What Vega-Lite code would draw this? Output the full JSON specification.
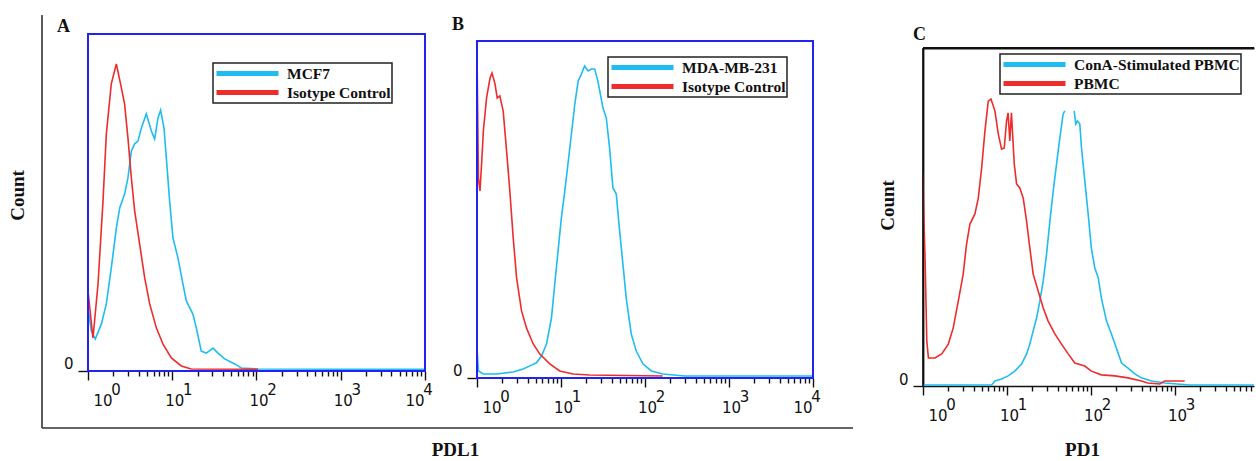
{
  "$schema": "https://vega.github.io/schema/vega-lite/v6.json",
  "background": "white",
  "padding": {"left": 8, "top": 14, "right": 0, "bottom": 0},
  "autosize": {"type": "pad"},
  "bounds": "flush",
  "spacing": 0,
  "config": {
    "view": {"stroke": null},
    "axis": {"grid": false, "labelFont": "DejaVu Sans", "labelFontSize": 15, "labelColor": "#111", "tickColor": "#111", "tickWidth": 1.4, "domainColor": "#111", "domainWidth": 1.6, "titleFont": "Liberation Serif", "titleFontSize": 19, "titleFontWeight": "bold", "titleColor": "#111"},
    "legend": {"symbolType": "stroke", "symbolSize": 3844, "symbolStrokeWidth": 5, "clipHeight": 19, "rowPadding": 0, "padding": 1, "labelOffset": 6, "labelFont": "Liberation Serif", "labelFontSize": 15.5, "labelFontWeight": "bold", "labelColor": "#111", "labelLimit": 400, "strokeColor": "#222", "strokeWidth": 1.5, "fillColor": "white"},
    "title": {"font": "Liberation Serif", "fontSize": 18, "fontWeight": "bold", "color": "#111", "anchor": "start", "frame": "group", "baseline": "alphabetic", "offset": 0}
  },
  "datasets": {
    "A": [
      {"s": "MCF7", "x": 1.0, "y": 18.7}, {"s": "MCF7", "x": 1.095, "y": 11.9}, {"s": "MCF7", "x": 1.22, "y": 9.5}, {"s": "MCF7", "x": 1.44, "y": 13.9}, {"s": "MCF7", "x": 1.65, "y": 19.9}, {"s": "MCF7", "x": 1.89, "y": 30.6}, {"s": "MCF7", "x": 2.17, "y": 42.4}, {"s": "MCF7", "x": 2.38, "y": 48.4}, {"s": "MCF7", "x": 2.72, "y": 52.5}, {"s": "MCF7", "x": 2.98, "y": 57.3}, {"s": "MCF7", "x": 3.27, "y": 65.3}, {"s": "MCF7", "x": 3.58, "y": 67.4}, {"s": "MCF7", "x": 3.92, "y": 68.2}, {"s": "MCF7", "x": 4.3, "y": 72.1}, {"s": "MCF7", "x": 4.92, "y": 76.3}, {"s": "MCF7", "x": 5.65, "y": 71.2}, {"s": "MCF7", "x": 6.18, "y": 68.8}, {"s": "MCF7", "x": 6.77, "y": 75.1}, {"s": "MCF7", "x": 7.28, "y": 77.4}, {"s": "MCF7", "x": 7.98, "y": 72.1}, {"s": "MCF7", "x": 8.51, "y": 63.2}, {"s": "MCF7", "x": 9.31, "y": 50.4}, {"s": "MCF7", "x": 10.2, "y": 39.5}, {"s": "MCF7", "x": 11.7, "y": 33.5}, {"s": "MCF7", "x": 13.4, "y": 25.8}, {"s": "MCF7", "x": 14.7, "y": 20.8}, {"s": "MCF7", "x": 17.6, "y": 16.9}, {"s": "MCF7", "x": 19.3, "y": 12.8}, {"s": "MCF7", "x": 22.1, "y": 5.9}, {"s": "MCF7", "x": 25.4, "y": 5.3}, {"s": "MCF7", "x": 30.5, "y": 6.8}, {"s": "MCF7", "x": 34.9, "y": 5.3}, {"s": "MCF7", "x": 41.9, "y": 3.6}, {"s": "MCF7", "x": 55.1, "y": 2.1}, {"s": "MCF7", "x": 66.1, "y": 0.9}, {"s": "MCF7", "x": 104, "y": 0.6}, {"s": "MCF7", "x": 1000, "y": 0.5}, {"s": "MCF7", "x": 10000, "y": 0.5},
      {"s": "Isotype Control", "x": 1.0, "y": 23.7}, {"s": "Isotype Control", "x": 1.146, "y": 9.8}, {"s": "Isotype Control", "x": 1.315, "y": 25.8}, {"s": "Isotype Control", "x": 1.507, "y": 50.4}, {"s": "Isotype Control", "x": 1.65, "y": 70.3}, {"s": "Isotype Control", "x": 1.89, "y": 85.2}, {"s": "Isotype Control", "x": 2.17, "y": 91.1}, {"s": "Isotype Control", "x": 2.49, "y": 84.0}, {"s": "Isotype Control", "x": 2.72, "y": 79.2}, {"s": "Isotype Control", "x": 2.98, "y": 69.1}, {"s": "Isotype Control", "x": 3.27, "y": 57.3}, {"s": "Isotype Control", "x": 3.58, "y": 47.5}, {"s": "Isotype Control", "x": 4.1, "y": 37.7}, {"s": "Isotype Control", "x": 4.71, "y": 27.6}, {"s": "Isotype Control", "x": 5.4, "y": 19.9}, {"s": "Isotype Control", "x": 6.47, "y": 12.8}, {"s": "Isotype Control", "x": 7.77, "y": 8.0}, {"s": "Isotype Control", "x": 9.75, "y": 3.9}, {"s": "Isotype Control", "x": 12.8, "y": 1.5}, {"s": "Isotype Control", "x": 16.8, "y": 0.6}, {"s": "Isotype Control", "x": 104, "y": 0.5}
    ],
    "B": [
      {"s": "MDA-MB-231", "x": 1.0, "y": 8.9}, {"s": "MDA-MB-231", "x": 1.04, "y": 2.1}, {"s": "MDA-MB-231", "x": 1.19, "y": 1.2}, {"s": "MDA-MB-231", "x": 1.71, "y": 1.2}, {"s": "MDA-MB-231", "x": 2.7, "y": 1.8}, {"s": "MDA-MB-231", "x": 3.55, "y": 2.7}, {"s": "MDA-MB-231", "x": 4.26, "y": 3.6}, {"s": "MDA-MB-231", "x": 5.11, "y": 4.5}, {"s": "MDA-MB-231", "x": 5.86, "y": 6.5}, {"s": "MDA-MB-231", "x": 6.72, "y": 10.1}, {"s": "MDA-MB-231", "x": 7.7, "y": 17.8}, {"s": "MDA-MB-231", "x": 8.43, "y": 27.9}, {"s": "MDA-MB-231", "x": 9.23, "y": 37.7}, {"s": "MDA-MB-231", "x": 10.1, "y": 47.5}, {"s": "MDA-MB-231", "x": 11.1, "y": 55.5}, {"s": "MDA-MB-231", "x": 12.1, "y": 63.5}, {"s": "MDA-MB-231", "x": 13.3, "y": 72.4}, {"s": "MDA-MB-231", "x": 14.6, "y": 81.3}, {"s": "MDA-MB-231", "x": 16.0, "y": 88.1}, {"s": "MDA-MB-231", "x": 17.5, "y": 90.2}, {"s": "MDA-MB-231", "x": 19.1, "y": 92.6}, {"s": "MDA-MB-231", "x": 21.0, "y": 91.1}, {"s": "MDA-MB-231", "x": 23.0, "y": 91.7}, {"s": "MDA-MB-231", "x": 25.2, "y": 91.7}, {"s": "MDA-MB-231", "x": 27.5, "y": 88.1}, {"s": "MDA-MB-231", "x": 31.6, "y": 80.1}, {"s": "MDA-MB-231", "x": 34.6, "y": 77.2}, {"s": "MDA-MB-231", "x": 37.9, "y": 68.2}, {"s": "MDA-MB-231", "x": 41.5, "y": 56.4}, {"s": "MDA-MB-231", "x": 45.5, "y": 54.6}, {"s": "MDA-MB-231", "x": 49.9, "y": 43.6}, {"s": "MDA-MB-231", "x": 54.6, "y": 33.8}, {"s": "MDA-MB-231", "x": 59.8, "y": 23.7}, {"s": "MDA-MB-231", "x": 68.6, "y": 13.1}, {"s": "MDA-MB-231", "x": 78.7, "y": 8.0}, {"s": "MDA-MB-231", "x": 94.4, "y": 4.2}, {"s": "MDA-MB-231", "x": 119, "y": 2.1}, {"s": "MDA-MB-231", "x": 163, "y": 1.2}, {"s": "MDA-MB-231", "x": 300, "y": 0.6}, {"s": "MDA-MB-231", "x": 10000, "y": 0.6},
      {"s": "Isotype Control", "x": 1.0, "y": 97.0}, {"s": "Isotype Control", "x": 1.04, "y": 59.3}, {"s": "Isotype Control", "x": 1.085, "y": 55.5}, {"s": "Isotype Control", "x": 1.14, "y": 64.4}, {"s": "Isotype Control", "x": 1.19, "y": 73.3}, {"s": "Isotype Control", "x": 1.3, "y": 83.1}, {"s": "Isotype Control", "x": 1.43, "y": 89.0}, {"s": "Isotype Control", "x": 1.51, "y": 90.5}, {"s": "Isotype Control", "x": 1.64, "y": 87.2}, {"s": "Isotype Control", "x": 1.74, "y": 83.1}, {"s": "Isotype Control", "x": 1.87, "y": 83.7}, {"s": "Isotype Control", "x": 2.05, "y": 79.2}, {"s": "Isotype Control", "x": 2.25, "y": 67.4}, {"s": "Isotype Control", "x": 2.46, "y": 55.5}, {"s": "Isotype Control", "x": 2.7, "y": 41.5}, {"s": "Isotype Control", "x": 2.96, "y": 29.7}, {"s": "Isotype Control", "x": 3.39, "y": 19.9}, {"s": "Isotype Control", "x": 3.89, "y": 14.8}, {"s": "Isotype Control", "x": 4.67, "y": 10.1}, {"s": "Isotype Control", "x": 5.6, "y": 7.1}, {"s": "Isotype Control", "x": 7.35, "y": 4.2}, {"s": "Isotype Control", "x": 9.66, "y": 2.1}, {"s": "Isotype Control", "x": 13.9, "y": 1.2}, {"s": "Isotype Control", "x": 21.9, "y": 0.9}, {"s": "Isotype Control", "x": 162, "y": 0.6}
    ],
    "C": [
      {"s": "ConA-Stimulated PBMC", "g": 1, "x": 1.0, "y": 0.3}, {"s": "ConA-Stimulated PBMC", "g": 1, "x": 6.56, "y": 0.3}, {"s": "ConA-Stimulated PBMC", "g": 1, "x": 7.18, "y": 1.5}, {"s": "ConA-Stimulated PBMC", "g": 1, "x": 8.62, "y": 2.1}, {"s": "ConA-Stimulated PBMC", "g": 1, "x": 10.3, "y": 3.0}, {"s": "ConA-Stimulated PBMC", "g": 1, "x": 12.4, "y": 4.4}, {"s": "ConA-Stimulated PBMC", "g": 1, "x": 14.9, "y": 6.5}, {"s": "ConA-Stimulated PBMC", "g": 1, "x": 17.1, "y": 9.5}, {"s": "ConA-Stimulated PBMC", "g": 1, "x": 18.7, "y": 12.4}, {"s": "ConA-Stimulated PBMC", "g": 1, "x": 20.5, "y": 16.3}, {"s": "ConA-Stimulated PBMC", "g": 1, "x": 22.5, "y": 20.1}, {"s": "ConA-Stimulated PBMC", "g": 1, "x": 24.6, "y": 25.1}, {"s": "ConA-Stimulated PBMC", "g": 1, "x": 27.0, "y": 31.1}, {"s": "ConA-Stimulated PBMC", "g": 1, "x": 29.6, "y": 39.1}, {"s": "ConA-Stimulated PBMC", "g": 1, "x": 32.4, "y": 48.8}, {"s": "ConA-Stimulated PBMC", "g": 1, "x": 35.5, "y": 57.7}, {"s": "ConA-Stimulated PBMC", "g": 1, "x": 38.9, "y": 65.7}, {"s": "ConA-Stimulated PBMC", "g": 1, "x": 42.6, "y": 73.4}, {"s": "ConA-Stimulated PBMC", "g": 1, "x": 46.6, "y": 80.5}, {"s": "ConA-Stimulated PBMC", "g": 1, "x": 48.8, "y": 81.4},
      {"s": "ConA-Stimulated PBMC", "g": 2, "x": 63.0, "y": 81.4}, {"s": "ConA-Stimulated PBMC", "g": 2, "x": 65.9, "y": 77.5}, {"s": "ConA-Stimulated PBMC", "g": 2, "x": 69.0, "y": 78.4}, {"s": "ConA-Stimulated PBMC", "g": 2, "x": 73.6, "y": 77.5}, {"s": "ConA-Stimulated PBMC", "g": 2, "x": 77.1, "y": 70.4}, {"s": "ConA-Stimulated PBMC", "g": 2, "x": 84.4, "y": 60.7}, {"s": "ConA-Stimulated PBMC", "g": 2, "x": 92.5, "y": 50.9}, {"s": "ConA-Stimulated PBMC", "g": 2, "x": 101, "y": 40.8}, {"s": "ConA-Stimulated PBMC", "g": 2, "x": 111, "y": 34.9}, {"s": "ConA-Stimulated PBMC", "g": 2, "x": 122, "y": 32.0}, {"s": "ConA-Stimulated PBMC", "g": 2, "x": 133, "y": 26.0}, {"s": "ConA-Stimulated PBMC", "g": 2, "x": 153, "y": 19.2}, {"s": "ConA-Stimulated PBMC", "g": 2, "x": 175, "y": 15.4}, {"s": "ConA-Stimulated PBMC", "g": 2, "x": 201, "y": 11.2}, {"s": "ConA-Stimulated PBMC", "g": 2, "x": 231, "y": 6.8}, {"s": "ConA-Stimulated PBMC", "g": 2, "x": 276, "y": 5.3}, {"s": "ConA-Stimulated PBMC", "g": 2, "x": 332, "y": 3.6}, {"s": "ConA-Stimulated PBMC", "g": 2, "x": 398, "y": 2.4}, {"s": "ConA-Stimulated PBMC", "g": 2, "x": 524, "y": 1.5}, {"s": "ConA-Stimulated PBMC", "g": 2, "x": 754, "y": 0.9}, {"s": "ConA-Stimulated PBMC", "g": 2, "x": 1500, "y": 0.3}, {"s": "ConA-Stimulated PBMC", "g": 2, "x": 8700, "y": 0.3},
      {"s": "PBMC", "g": 1, "x": 1.0, "y": 62.7}, {"s": "PBMC", "g": 1, "x": 1.01, "y": 54.7}, {"s": "PBMC", "g": 1, "x": 1.06, "y": 37.0}, {"s": "PBMC", "g": 1, "x": 1.11, "y": 13.3}, {"s": "PBMC", "g": 1, "x": 1.16, "y": 8.3}, {"s": "PBMC", "g": 1, "x": 1.39, "y": 8.3}, {"s": "PBMC", "g": 1, "x": 1.67, "y": 9.5}, {"s": "PBMC", "g": 1, "x": 2.0, "y": 12.4}, {"s": "PBMC", "g": 1, "x": 2.29, "y": 17.2}, {"s": "PBMC", "g": 1, "x": 2.63, "y": 25.1}, {"s": "PBMC", "g": 1, "x": 3.01, "y": 33.1}, {"s": "PBMC", "g": 1, "x": 3.3, "y": 42.0}, {"s": "PBMC", "g": 1, "x": 3.62, "y": 47.9}, {"s": "PBMC", "g": 1, "x": 4.15, "y": 50.9}, {"s": "PBMC", "g": 1, "x": 4.55, "y": 55.6}, {"s": "PBMC", "g": 1, "x": 4.99, "y": 64.5}, {"s": "PBMC", "g": 1, "x": 5.46, "y": 75.4}, {"s": "PBMC", "g": 1, "x": 5.98, "y": 84.3}, {"s": "PBMC", "g": 1, "x": 6.44, "y": 84.9}, {"s": "PBMC", "g": 1, "x": 7.18, "y": 81.4}, {"s": "PBMC", "g": 1, "x": 7.87, "y": 74.6}, {"s": "PBMC", "g": 1, "x": 8.62, "y": 70.1}, {"s": "PBMC", "g": 1, "x": 9.27, "y": 70.4}, {"s": "PBMC", "g": 1, "x": 9.88, "y": 78.4}, {"s": "PBMC", "g": 1, "x": 10.3, "y": 80.8}, {"s": "PBMC", "g": 1, "x": 10.8, "y": 72.5}, {"s": "PBMC", "g": 1, "x": 11.3, "y": 80.8}, {"s": "PBMC", "g": 1, "x": 12.2, "y": 65.7}, {"s": "PBMC", "g": 1, "x": 13.0, "y": 59.8}, {"s": "PBMC", "g": 1, "x": 14.2, "y": 58.6}, {"s": "PBMC", "g": 1, "x": 15.6, "y": 55.6}, {"s": "PBMC", "g": 1, "x": 17.1, "y": 48.8}, {"s": "PBMC", "g": 1, "x": 18.7, "y": 40.8}, {"s": "PBMC", "g": 1, "x": 20.5, "y": 33.1}, {"s": "PBMC", "g": 1, "x": 23.5, "y": 28.1}, {"s": "PBMC", "g": 1, "x": 27.0, "y": 23.1}, {"s": "PBMC", "g": 1, "x": 30.9, "y": 19.2}, {"s": "PBMC", "g": 1, "x": 37.1, "y": 15.4}, {"s": "PBMC", "g": 1, "x": 44.6, "y": 12.4}, {"s": "PBMC", "g": 1, "x": 53.5, "y": 9.5}, {"s": "PBMC", "g": 1, "x": 64.2, "y": 6.8}, {"s": "PBMC", "g": 1, "x": 84.4, "y": 5.9}, {"s": "PBMC", "g": 1, "x": 101, "y": 4.4}, {"s": "PBMC", "g": 1, "x": 133, "y": 3.3}, {"s": "PBMC", "g": 1, "x": 192, "y": 3.0}, {"s": "PBMC", "g": 1, "x": 276, "y": 2.4}, {"s": "PBMC", "g": 1, "x": 398, "y": 1.5}, {"s": "PBMC", "g": 1, "x": 477, "y": 0.9}, {"s": "PBMC", "g": 1, "x": 658, "y": 0.6}, {"s": "PBMC", "g": 1, "x": 754, "y": 1.5}, {"s": "PBMC", "g": 1, "x": 1304, "y": 1.5}
    ]
  },
  "resolve": {"scale": {"color": "independent"}},
  "hconcat": [
    {
      "width": 408,
      "height": 413,
      "title": {"text": "A", "dx": 15, "dy": 26},
      "resolve": {"axis": {"x": "independent"}},
      "layer": [
        {
          "data": {"name": "A"},
          "mark": {"type": "line", "strokeWidth": 1.6},
          "encoding": {
            "x": {"field": "x", "type": "quantitative",
              "scale": {"type": "log", "domain": [0.28445, 19806], "nice": false},
              "axis": {"orient": "bottom", "offset": -57, "domain": false,
                "values": [1,2,3,4,5,6,7,8,9,10,20,30,40,50,60,70,80,90,100,200,300,400,500,600,700,800,900,1000,2000,3000,4000,5000,6000,7000,8000,9000,10000],
                "tickSize": {"condition": {"test": "datum.value === 1 || datum.value === 10 || datum.value === 100 || datum.value === 1000 || datum.value === 10000", "value": 9}, "value": 5},
                "labelPadding": 13, "labelBaseline": "top", "labelAlign": "center",
                "labelFlush": false, "labelOverlap": false, "labelBound": false,
                "labelOffset": {"expr": "datum.value === 1 ? 14.5 : datum.value === 10000 ? -10.5 : 2"},
                "labelExpr": "datum.value === 1 || datum.value === 10 || datum.value === 100 || datum.value === 1000 || datum.value === 10000 ? '10' : ''",
                "title": "PDL1", "titleX": 413, "titleY": 84, "titleBaseline": "alphabetic", "titleAlign": "center"}},
            "y": {"field": "y", "type": "quantitative",
              "scale": {"domain": [-16.914, 105.638], "nice": false, "zero": false},
              "axis": {"orient": "left", "offset": -46, "domain": false, "values": [0], "tickSize": 10,
                "labelPadding": 5, "labelBaseline": "alphabetic", "labelOffset": -2,
                "title": "Count", "titleX": -80, "titleY": 180, "titleBaseline": "top", "titleAlign": "center", "titleAngle": 270}},
            "color": {"field": "s", "type": "nominal",
              "scale": {"domain": ["MCF7", "Isotype Control"], "range": ["#1fbcef", "#ee2c2c"]},
              "legend": {"title": null, "orient": "none", "legendX": 171, "legendY": 48}}
          }
        },
        {
          "data": {"values": [{}]},
          "mark": {"type": "rule", "color": "#333", "strokeWidth": 1.6},
          "encoding": {"x": {"datum": 0.28445, "type": "quantitative", "axis": null}}
        },
        {
          "data": {"values": [{}]},
          "mark": {"type": "rule", "color": "#333", "strokeWidth": 1.6},
          "encoding": {"y": {"datum": -16.914, "type": "quantitative"}}
        },
        {
          "data": {"values": [{}]},
          "mark": {"type": "rect", "fill": "transparent", "stroke": "#2222f2", "strokeWidth": 2},
          "encoding": {
            "x": {"datum": 1, "type": "quantitative",
              "axis": {"orient": "bottom", "offset": -57, "domain": false, "values": [1, 10, 100, 1000, 10000],
                "ticks": true, "tickOpacity": 0, "tickSize": 9, "labelPadding": 2, "labelBaseline": "top", "labelAlign": "center",
                "labelFlush": false, "labelOverlap": false, "labelBound": false,
                "labelOffset": {"expr": "datum.value === 1 ? 27.5 : datum.value === 10000 ? 2.5 : 15"},
                "labelExpr": "datum.value === 1 ? '0' : datum.value === 10 ? '1' : datum.value === 100 ? '2' : datum.value === 1000 ? '3' : '4'",
                "title": null}},
            "x2": {"datum": 10000},
            "y": {"datum": 0, "type": "quantitative"}, "y2": {"datum": 100}}
        }
      ]
    },
    {
      "width": 473,
      "height": 413,
      "title": {"text": "B", "dx": 2, "dy": 23},
      "resolve": {"axis": {"x": "independent"}},
      "layer": [
        {
          "data": {"name": "B"},
          "mark": {"type": "line", "strokeWidth": 1.6},
          "encoding": {
            "x": {"field": "x", "type": "quantitative",
              "scale": {"type": "log", "domain": [0.4771, 203950], "nice": false},
              "axis": {"orient": "bottom", "offset": -50, "domain": false,
                "values": [1,2,3,4,5,6,7,8,9,10,20,30,40,50,60,70,80,90,100,200,300,400,500,600,700,800,900,1000,2000,3000,4000,5000,6000,7000,8000,9000,10000],
                "tickSize": {"condition": {"test": "datum.value === 1 || datum.value === 10 || datum.value === 100 || datum.value === 1000 || datum.value === 10000", "value": 9}, "value": 5},
                "labelPadding": 13, "labelBaseline": "top", "labelAlign": "center",
                "labelFlush": false, "labelOverlap": false, "labelBound": false,
                "labelOffset": {"expr": "datum.value === 1 ? 14.5 : datum.value === 10000 ? -10.5 : 2"},
                "labelExpr": "datum.value === 1 || datum.value === 10 || datum.value === 100 || datum.value === 1000 || datum.value === 10000 ? '10' : ''",
                "title": null}},
            "y": {"field": "y", "type": "quantitative",
              "scale": {"domain": [-14.837, 107.715], "nice": false, "zero": false},
              "axis": {"orient": "left", "offset": -27, "domain": false, "values": [0], "tickSize": 10,
                "labelPadding": 5, "labelBaseline": "alphabetic", "labelOffset": -2, "title": null}},
            "color": {"field": "s", "type": "nominal",
              "scale": {"domain": ["MDA-MB-231", "Isotype Control"], "range": ["#1fbcef", "#ee2c2c"]},
              "legend": {"title": null, "orient": "none", "legendX": 158, "legendY": 42}}
          }
        },
        {
          "data": {"values": [{}]},
          "mark": {"type": "rule", "color": "#333", "strokeWidth": 1.6},
          "encoding": {"x": {"datum": 0.4771, "type": "quantitative", "axis": null}, "x2": {"datum": 29941}, "y": {"datum": -14.837, "type": "quantitative"}}
        },
        {
          "data": {"values": [{}]},
          "mark": {"type": "rect", "fill": "transparent", "stroke": "#2222f2", "strokeWidth": 2},
          "encoding": {
            "x": {"datum": 1, "type": "quantitative",
              "axis": {"orient": "bottom", "offset": -50, "domain": false, "values": [1, 10, 100, 1000, 10000],
                "ticks": true, "tickOpacity": 0, "tickSize": 9, "labelPadding": 2, "labelBaseline": "top", "labelAlign": "center",
                "labelFlush": false, "labelOverlap": false, "labelBound": false,
                "labelOffset": {"expr": "datum.value === 1 ? 27.5 : datum.value === 10000 ? 2.5 : 15"},
                "labelExpr": "datum.value === 1 ? '0' : datum.value === 10 ? '1' : datum.value === 100 ? '2' : datum.value === 1000 ? '3' : '4'",
                "title": null}},
            "x2": {"datum": 10000},
            "y": {"datum": 0, "type": "quantitative"}, "y2": {"datum": 100}}
        }
      ]
    },
    {
      "bounds": "flush",
      "spacing": 0,
      "vconcat": [
        {
          "width": 331,
          "height": 33,
          "title": {"text": "C", "dx": -10, "dy": 33},
          "data": {"values": [{}]},
          "mark": {"type": "point", "opacity": 0}
        },
        {
          "width": 331,
          "height": 338,
          "resolve": {"axis": {"x": "independent"}},
          "layer": [
            {
              "data": {"name": "C"},
              "mark": {"type": "line", "strokeWidth": 1.6},
              "encoding": {
                "x": {"field": "x", "type": "quantitative",
                  "scale": {"type": "log", "domain": [1, 8720], "nice": false},
                  "axis": {"orient": "bottom", "offset": 0, "domain": true,
                    "values": [1,2,3,4,5,6,7,8,9,10,20,30,40,50,60,70,80,90,100,200,300,400,500,600,700,800,900,1000,2000,3000,4000,5000,6000,7000,8000],
                    "tickSize": {"condition": {"test": "datum.value === 1 || datum.value === 10 || datum.value === 100 || datum.value === 1000 || datum.value === 10000", "value": 9}, "value": 5},
                    "labelPadding": 13, "labelBaseline": "top", "labelAlign": "center",
                    "labelFlush": false, "labelOverlap": false, "labelBound": false,
                    "labelOffset": {"expr": "datum.value === 1 ? 14.5 : 2"},
                    "labelExpr": "datum.value === 1 || datum.value === 10 || datum.value === 100 || datum.value === 1000 ? '10' : ''",
                    "title": "PD1", "titleX": 159, "titleY": 69, "titleBaseline": "alphabetic", "titleAlign": "center"}},
                "y": {"field": "y", "type": "quantitative",
                  "scale": {"domain": [0, 100], "nice": false, "zero": false},
                  "axis": {"orient": "left", "offset": 0, "domain": true, "domainWidth": 1.8, "values": [0], "tickSize": 10,
                    "labelPadding": 5, "labelBaseline": "alphabetic", "labelOffset": -2,
                    "title": "Count", "titleX": -45, "titleY": 157, "titleBaseline": "top", "titleAlign": "center", "titleAngle": 270}},
                "detail": {"field": "g", "type": "nominal"},
                "color": {"field": "s", "type": "nominal",
                  "scale": {"domain": ["ConA-Stimulated PBMC", "PBMC"], "range": ["#1fbcef", "#ee2c2c"]},
                  "legend": {"title": null, "orient": "none", "legendX": 77, "legendY": 39}}
              }
            },
            {
              "data": {"values": [{}]},
              "mark": {"type": "rule", "color": "#111", "strokeWidth": 1.8},
              "encoding": {
                "x": {"datum": 1, "type": "quantitative",
                  "axis": {"orient": "top", "offset": 0, "domain": true, "domainWidth": 2, "ticks": false, "labels": false, "title": null}},
                "x2": {"datum": 8720},
                "y": {"datum": 100, "type": "quantitative"}}
            },
            {
              "data": {"values": [{}]},
              "mark": {"type": "rule", "color": "#111", "strokeWidth": 1.6},
              "encoding": {
                "x": {"datum": 1, "type": "quantitative",
                  "axis": {"orient": "bottom", "offset": 0, "domain": false, "values": [1, 10, 100, 1000],
                    "ticks": true, "tickOpacity": 0, "tickSize": 9, "labelPadding": 2, "labelBaseline": "top", "labelAlign": "center",
                    "labelFlush": false, "labelOverlap": false, "labelBound": false,
                    "labelOffset": {"expr": "datum.value === 1 ? 27.5 : 15"},
                    "labelExpr": "datum.value === 1 ? '0' : datum.value === 10 ? '1' : datum.value === 100 ? '2' : '3'",
                    "title": null}},
                "y": {"datum": 0, "type": "quantitative"}, "y2": {"datum": 100}}
            }
          ]
        }
      ]
    }
  ]
}
